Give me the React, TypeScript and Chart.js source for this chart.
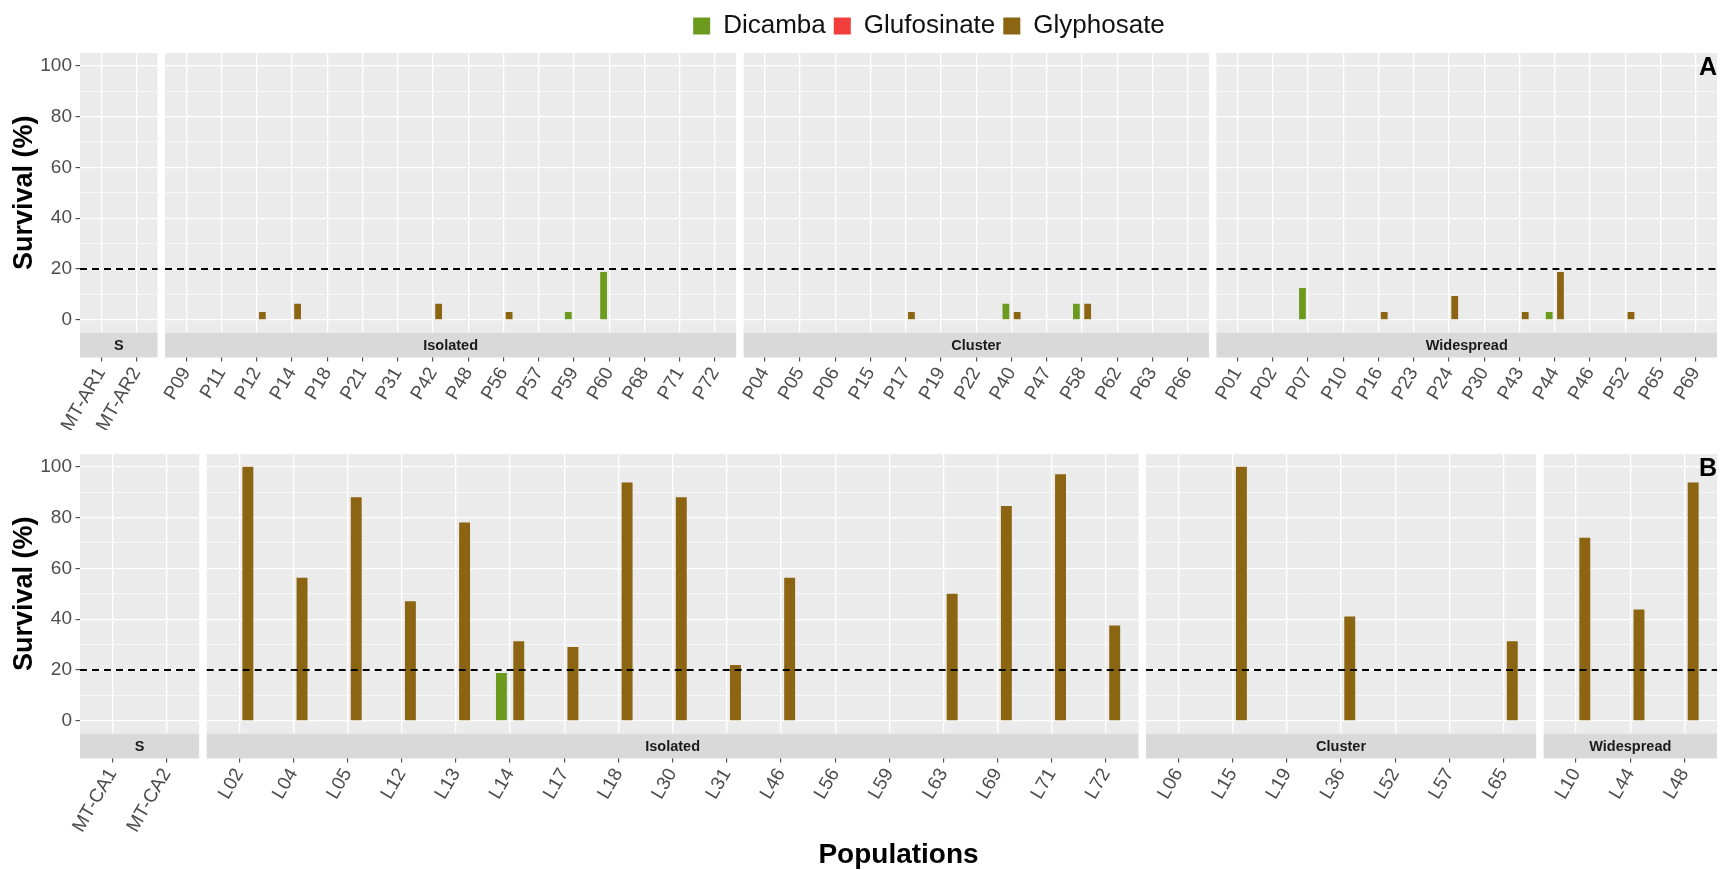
import React, { useEffect, useRef } from 'react';
import { Chart, registerables } from 'chart.js';

Chart.register(...registerables);

const FONT = '"Liberation Sans", Arial, Helvetica, sans-serif';
Chart.defaults.font.family = FONT;

const GREEN = '#6B9A1E';
const RED = '#F23D3D';
const BROWN = '#8B6512';

const herbicides = ['Dicamba', 'Glufosinate', 'Glyphosate'];
const groups = ['S', 'Isolated', 'Cluster', 'Widespread'];
const yTickValues = [0, 10, 20, 30, 40, 50, 60, 70, 80, 90, 100];
const threshold = 20;

// ---------- Panel A ----------
const aSusceptible = ['MT-AR1', 'MT-AR2'];
const aSDicamba = [0, 0];
const aSGlyphosate = [0, 0];

const aIsolated = ['P09', 'P11', 'P12', 'P14', 'P18', 'P21', 'P31', 'P42', 'P48', 'P56', 'P57', 'P59', 'P60', 'P68', 'P71', 'P72'];
const aIsoDicamba = [0, 0, 0, 0, 0, 0, 0, 0, 0, 0, 0, 3.1, 18.8, 0, 0, 0];
const aIsoGlyphosate = [0, 0, 3.1, 6.3, 0, 0, 0, 6.3, 0, 3.1, 0, 0, 0, 0, 0, 0];

const aCluster = ['P04', 'P05', 'P06', 'P15', 'P17', 'P19', 'P22', 'P40', 'P47', 'P58', 'P62', 'P63', 'P66'];
const aCluDicamba = [0, 0, 0, 0, 0, 0, 0, 6.3, 0, 6.3, 0, 0, 0];
const aCluGlyphosate = [0, 0, 0, 0, 3.1, 0, 0, 3.1, 0, 6.3, 0, 0, 0];

const aWidespread = ['P01', 'P02', 'P07', 'P10', 'P16', 'P23', 'P24', 'P30', 'P43', 'P44', 'P46', 'P52', 'P65', 'P69'];
const aWideDicamba = [0, 0, 12.5, 0, 0, 0, 0, 0, 0, 3.1, 0, 0, 0, 0];
const aWideGlyphosate = [0, 0, 0, 0, 3.1, 0, 9.4, 0, 3.1, 18.8, 0, 3.1, 0, 0];

// ---------- Panel B ----------
const bSusceptible = ['MT-CA1', 'MT-CA2'];
const bSDicamba = [0, 0];
const bSGlyphosate = [0, 0];

const bIsolated = ['L02', 'L04', 'L05', 'L12', 'L13', 'L14', 'L17', 'L18', 'L30', 'L31', 'L46', 'L56', 'L59', 'L63', 'L69', 'L71', 'L72'];
const bIsoDicamba = [0, 0, 0, 0, 0, 18.8, 0, 0, 0, 0, 0, 0, 0, 0, 0, 0, 0];
const bIsoGlyphosate = [100, 56.3, 88, 47, 78, 31.3, 29, 93.8, 88, 22, 56.3, 0, 0, 50, 84.5, 97, 37.5];

const bCluster = ['L06', 'L15', 'L19', 'L36', 'L52', 'L57', 'L65'];
const bCluDicamba = [0, 0, 0, 0, 0, 0, 0];
const bCluGlyphosate = [0, 100, 0, 41, 0, 0, 31.3];

const bWidespread = ['L10', 'L44', 'L48'];
const bWideDicamba = [0, 0, 0];
const bWideGlyphosate = [72, 43.8, 93.8];

type PanelDef = { group: string; cats: string[]; dicamba: number[]; glyphosate: number[] };

const rowAPanels: PanelDef[] = [
  { group: groups[0], cats: aSusceptible, dicamba: aSDicamba, glyphosate: aSGlyphosate },
  { group: groups[1], cats: aIsolated, dicamba: aIsoDicamba, glyphosate: aIsoGlyphosate },
  { group: groups[2], cats: aCluster, dicamba: aCluDicamba, glyphosate: aCluGlyphosate },
  { group: groups[3], cats: aWidespread, dicamba: aWideDicamba, glyphosate: aWideGlyphosate },
];
const rowBPanels: PanelDef[] = [
  { group: groups[0], cats: bSusceptible, dicamba: bSDicamba, glyphosate: bSGlyphosate },
  { group: groups[1], cats: bIsolated, dicamba: bIsoDicamba, glyphosate: bIsoGlyphosate },
  { group: groups[2], cats: bCluster, dicamba: bCluDicamba, glyphosate: bCluGlyphosate },
  { group: groups[3], cats: bWidespread, dicamba: bWideDicamba, glyphosate: bWideGlyphosate },
];

// layout constants (pixels)
const PLOT_LEFT = 80;
const PLOT_RIGHT = 1717;
const PANEL_GAP = 7.5;
const STRIP_H = 25;
const EXPAND = 0.6;
const DODGE = 0.16;

type RowCfg = {
  panels: PanelDef[];
  tag: string;
  legend: boolean;
  xTitle: string;
  canvasW: number;
  canvasH: number;
  padTop: number;
  padRight: number;
  xAxisH: number;
  rightSpacer: number;
  barPct: number;
};

function buildRow(panels: PanelDef[]) {
  const areaW = PLOT_RIGHT - PLOT_LEFT;
  const totalUnits = panels.reduce((s, p) => s + p.cats.length - 1 + 2 * EXPAND, 0);
  const unitPx = (areaW - PANEL_GAP * (panels.length - 1)) / totalUnits;
  const gapU = PANEL_GAP / unitPx;
  const starts: number[] = [];
  let s = 0;
  panels.forEach((p) => {
    starts.push(s);
    s += p.cats.length - 1 + 2 * EXPAND + gapU;
  });
  const last = panels.length - 1;
  const xMax = starts[last] + panels[last].cats.length - 1 + EXPAND;
  const tickPos: number[] = [];
  const tickLabels: string[] = [];
  panels.forEach((p, k) => p.cats.forEach((c, i) => { tickPos.push(starts[k] + i); tickLabels.push(c); }));
  return { starts, xMax, tickPos, tickLabels };
}

function facetPlugin(panels: PanelDef[], starts: number[], tag: string) {
  const bounds = (chart: any, k: number) => {
    const x = chart.scales.x;
    const l = x.getPixelForValue(starts[k] - EXPAND);
    const r = x.getPixelForValue(starts[k] + panels[k].cats.length - 1 + EXPAND);
    return [l, r];
  };
  return {
    id: 'facets' + tag,
    beforeDraw(chart: any) {
      const { ctx, chartArea: ca } = chart;
      ctx.save();
      ctx.fillStyle = '#EBEBEB';
      panels.forEach((_p, k) => {
        const [l, r] = bounds(chart, k);
        ctx.fillRect(l, ca.top, r - l, ca.bottom - ca.top);
      });
      ctx.restore();
    },
    afterDatasetsDraw(chart: any) {
      const { ctx } = chart;
      const y = chart.scales.y.getPixelForValue(threshold);
      ctx.save();
      ctx.strokeStyle = '#000000';
      ctx.lineWidth = 2;
      ctx.setLineDash([7, 5]);
      panels.forEach((_p, k) => {
        const [l, r] = bounds(chart, k);
        ctx.beginPath();
        ctx.moveTo(l, y);
        ctx.lineTo(r, y);
        ctx.stroke();
      });
      ctx.restore();
    },
    afterDraw(chart: any) {
      const { ctx, chartArea: ca } = chart;
      ctx.save();
      panels.forEach((p, k) => {
        const [l, r] = bounds(chart, k);
        ctx.fillStyle = '#D9D9D9';
        ctx.fillRect(l, ca.bottom, r - l, STRIP_H);
        ctx.fillStyle = '#1A1A1A';
        ctx.font = `bold 14.5px ${FONT}`;
        ctx.textAlign = 'center';
        ctx.textBaseline = 'middle';
        ctx.fillText(p.group, (l + r) / 2, ca.bottom + STRIP_H / 2 + 1);
      });
      ctx.fillStyle = '#000000';
      ctx.font = `bold 25px ${FONT}`;
      ctx.textAlign = 'center';
      ctx.textBaseline = 'middle';
      ctx.fillText(tag, ca.right - 9, ca.top + 15);
      ctx.restore();
    },
  };
}

function makeChart(canvas: HTMLCanvasElement, cfg: RowCfg) {
  const { panels } = cfg;
  const { starts, xMax, tickPos, tickLabels } = buildRow(panels);
  const dicData = panels.flatMap((p, k) => p.dicamba.map((v, i) => ({ x: starts[k] + i - DODGE, y: v })));
  const glyData = panels.flatMap((p, k) => p.glyphosate.map((v, i) => ({ x: starts[k] + i + DODGE, y: v })));
  const barOpts = { grouped: false, categoryPercentage: 1, barPercentage: cfg.barPct, borderWidth: 0 };
  const tickFont = { size: 19, family: FONT };

  const scales: any = {
    x: {
      type: 'linear',
      min: -EXPAND,
      max: xMax,
      offset: false,
      afterBuildTicks: (ax: any) => { ax.ticks = tickPos.map((v) => ({ value: v })); },
      afterFit: (ax: any) => { ax.height = cfg.xAxisH; },
      ticks: {
        autoSkip: false,
        maxRotation: 60,
        minRotation: 60,
        padding: 2,
        color: '#4D4D4D',
        font: tickFont,
        callback: (_v: any, i: number) => tickLabels[i],
      },
      grid: { color: '#FFFFFF', lineWidth: 1.3, tickLength: STRIP_H + 4, tickColor: '#333333', tickWidth: 1, offset: false, drawOnChartArea: true },
      border: { display: false },
      title: cfg.xTitle
        ? { display: true, text: cfg.xTitle, color: '#000000', font: { size: 28, weight: 'bold', family: FONT, lineHeight: 1 }, padding: { top: 4, bottom: 1 } }
        : { display: false },
    },
    y: {
      type: 'linear',
      min: -5,
      max: 105,
      afterBuildTicks: (ax: any) => { ax.ticks = yTickValues.map((v) => ({ value: v })); },
      afterFit: (ax: any) => { ax.width = PLOT_LEFT; },
      ticks: {
        color: '#4D4D4D',
        font: tickFont,
        padding: 3.5,
        callback: (v: any) => (Number(v) % 20 === 0 ? String(v) : ''),
      },
      grid: {
        color: '#FFFFFF',
        lineWidth: (ctx: any) => (ctx.tick && ctx.tick.value % 20 === 0 ? 1.3 : 0.6),
        tickLength: 4.5,
        tickWidth: 1,
        tickColor: (ctx: any) => (ctx.tick && ctx.tick.value % 20 === 0 ? '#333333' : 'rgba(0,0,0,0)'),
      },
      border: { display: false },
      title: { display: true, text: 'Survival (%)', color: '#000000', font: { size: 27, weight: 'bold', family: FONT, lineHeight: 1.2 }, padding: { top: 8.5, bottom: 0 } },
    },
  };
  if (cfg.rightSpacer > 0) {
    scales.ySpacer = {
      type: 'linear',
      position: 'right',
      display: true,
      grid: { display: false },
      border: { display: false },
      ticks: { display: false },
      afterFit: (ax: any) => { ax.width = cfg.rightSpacer; },
    };
  }

  return new Chart(canvas, {
    type: 'bar',
    data: {
      datasets: [
        { label: herbicides[0], data: dicData, backgroundColor: GREEN, ...barOpts },
        { label: herbicides[1], data: [], backgroundColor: RED, ...barOpts },
        { label: herbicides[2], data: glyData, backgroundColor: BROWN, ...barOpts },
      ] as any,
    },
    options: {
      responsive: false,
      animation: false,
      events: [],
      layout: { padding: { top: cfg.padTop, right: cfg.padRight, left: 0, bottom: 0 } },
      plugins: {
        legend: cfg.legend
          ? {
              display: true,
              position: 'top',
              fullSize: true,
              labels: { color: '#111111', font: { size: 26, family: FONT }, boxWidth: 17, boxHeight: 17, padding: 8 },
            }
          : { display: false },
        title: cfg.legend
          ? { display: true, text: '', weight: 500, padding: { top: 2, bottom: 1 }, font: { size: 1, lineHeight: 1 } }
          : { display: false },
        tooltip: { enabled: false },
      },
      scales,
    } as any,
    plugins: [facetPlugin(panels, starts, cfg.tag)],
  });
}

const rowACfg: RowCfg = {
  panels: rowAPanels, tag: 'A', legend: true, xTitle: '',
  canvasW: 1858, canvasH: 430, padTop: 5, padRight: 0, xAxisH: 97.5, rightSpacer: 1858 - PLOT_RIGHT, barPct: 0.6,
};
const rowBCfg: RowCfg = {
  panels: rowBPanels, tag: 'B', legend: false, xTitle: 'Populations',
  canvasW: 1727, canvasH: 440, padTop: 24, padRight: 1727 - PLOT_RIGHT, xAxisH: 136.5, rightSpacer: 0, barPct: 0.63,
};

export default function App() {
  const refA = useRef<HTMLCanvasElement | null>(null);
  const refB = useRef<HTMLCanvasElement | null>(null);

  useEffect(() => {
    const charts: Chart[] = [];
    if (refA.current) charts.push(makeChart(refA.current, rowACfg));
    if (refB.current) charts.push(makeChart(refB.current, rowBCfg));
    return () => charts.forEach((c) => c.destroy());
  }, []);

  return (
    <div style={{ position: 'absolute', left: 0, top: 0, width: 1727, height: 870, overflow: 'hidden', background: '#FFFFFF' }}>
      <canvas ref={refA} width={rowACfg.canvasW} height={rowACfg.canvasH} style={{ position: 'absolute', left: 0, top: 0 }} />
      <canvas ref={refB} width={rowBCfg.canvasW} height={rowBCfg.canvasH} style={{ position: 'absolute', left: 0, top: 430 }} />
    </div>
  );
}
